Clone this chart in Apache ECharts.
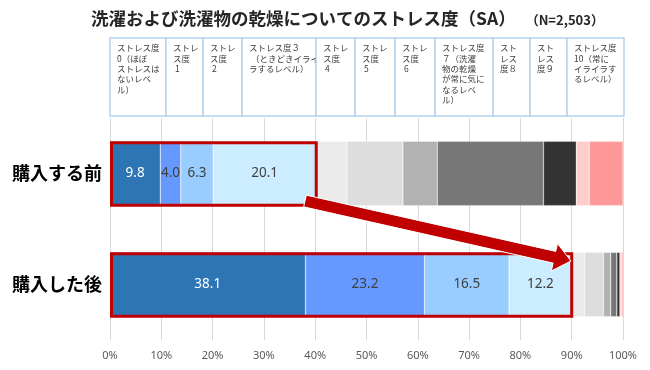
<!DOCTYPE html>
<html><head><meta charset="utf-8">
<script src="https://cdn.jsdelivr.net/npm/echarts@6/dist/echarts.min.js"></script>
<style>html,body{margin:0;padding:0;background:#fff}#c{width:650px;height:370px}</style>
</head><body><div id="c"></div>
<script>
const categories = ['購入する前', '購入した後'];
const levelNames = ['ストレス度0', 'ストレス度1', 'ストレス度2', 'ストレス度3', 'ストレス度4', 'ストレス度5', 'ストレス度6', 'ストレス度7', 'ストレス度8', 'ストレス度9', 'ストレス度10'];
const headerLabels = [
  'ストレス度\n0（ほぼ\nストレスは\nないレベ\nル）',
  'ストレ\nス度\n 1',
  'ストレ\nス度\n 2',
  'ストレス度３\n （ときどきイライ\nラするレベル）',
  'ストレ\nス度\n 4',
  'ストレ\nス度\n 5',
  'ストレ\nス度\n 6',
  'ストレス度\n７（洗濯\n物の乾燥\nが常に気に\nなるレベ\nル）',
  'スト\nレス\n度８',
  'スト\nレス\n度９',
  'ストレス度\n10（常に\nイライラす\nるレベル）'
];
const beforeValues = [9.8, 4.0, 6.3, 20.1, 6.0, 10.9, 6.7, 20.7, 6.4, 2.5, 6.6];
const afterValues = [38.1, 23.2, 16.5, 12.2, 2.5, 3.7, 1.4, 1.2, 0.6, 0.3, 0.3];
const xTickLabels = ['0%', '10%', '20%', '30%', '40%', '50%', '60%', '70%', '80%', '90%', '100%'];
const highlightCount = 4;

const colors = ['#2E75B6', '#6699FF', '#99CCFF', '#CCECFF', '#EBEBEB', '#DDDDDD', '#B2B2B2', '#777777', '#333333', '#FFCCCC', '#FF9999'];
const labelColors = ['#FFFFFF', '#404040', '#404040', '#404040'];
const headerEdges = [110, 166, 203, 242, 316, 355, 395, 435, 493, 530, 567, 624];
const headerTop = 38, headerBottom = 116;

const chart = echarts.init(document.getElementById('c'), null, {renderer: 'canvas'});

const barSeries = levelNames.map((name, i) => ({
  name: name,
  type: 'bar',
  stack: 'total',
  barWidth: '58%',
  data: [beforeValues[i], afterValues[i]],
  itemStyle: {color: colors[i], borderColor: 'rgba(255,255,255,0.6)', borderWidth: 0.5},
  label: i < highlightCount ? {
    show: true,
    position: 'inside',
    color: labelColors[i],
    fontSize: 13.5,
    fontFamily: 'Noto Sans',
    formatter: p => p.value.toFixed(1)
  } : {show: false},
  emphasis: {disabled: true},
  z: 2
}));

const sumFirst = arr => arr.slice(0, highlightCount).reduce((a, b) => a + b, 0);
const boxData = [[0, sumFirst(beforeValues)], [1, sumFirst(afterValues)]];

const boxSeries = {
  type: 'custom',
  data: boxData,
  encode: {x: 1, y: 0},
  z: 5,
  silent: true,
  renderItem: (params, api) => {
    const cat = api.value(0);
    const end = api.value(1);
    const p0 = api.coord([0, cat]);
    const p1 = api.coord([end, cat]);
    const h = api.size([0, 1])[1] * 0.58;
    return {
      type: 'rect',
      shape: {x: p0[0] + 1.5, y: p0[1] - h / 2 + 1.5, width: p1[0] - p0[0] - 1.5, height: h - 2},
      style: {fill: 'none', stroke: '#C00000', lineWidth: 3}
    };
  }
};

const headerGraphics = [];
for (let i = 0; i < headerLabels.length; i++) {
  const x0 = headerEdges[i], x1 = headerEdges[i + 1];
  headerGraphics.push({
    type: 'rect',
    shape: {x: x0, y: headerTop, width: x1 - x0, height: headerBottom - headerTop},
    style: {fill: '#FFFFFF', stroke: '#B4D2EE', lineWidth: 1.5},
    silent: true
  });
  headerGraphics.push({
    type: 'text',
    x: x0 + 7,
    y: headerTop + 5,
    style: {
      text: headerLabels[i],
      fontSize: 8.5,
      lineHeight: 10.3,
      fill: '#404040',
      fontFamily: 'Noto Sans CJK JP',
      verticalAlign: 'top'
    },
    silent: true
  });
}

function arrowPoints(sx, sy, ex, ey, halfW, headHalfW, headLen) {
  const dx = ex - sx, dy = ey - sy;
  const len = Math.sqrt(dx * dx + dy * dy);
  const ux = dx / len, uy = dy / len;
  const nx = -uy, ny = ux;
  const bx = ex - ux * headLen, by = ey - uy * headLen;
  return [
    [sx + nx * halfW, sy + ny * halfW],
    [bx + nx * halfW, by + ny * halfW],
    [bx + nx * headHalfW, by + ny * headHalfW],
    [ex, ey],
    [bx - nx * headHalfW, by - ny * headHalfW],
    [bx - nx * halfW, by - ny * halfW],
    [sx - nx * halfW, sy - ny * halfW]
  ];
}

chart.setOption({
  animation: false,
  backgroundColor: '#FFFFFF',
  title: {
    text: '{a|洗濯および洗濯物の乾燥についてのストレス度（SA）}{b|（N=2,503）}',
    left: 86,
    top: 5,
    textStyle: {
      rich: {
        a: {fontSize: 17.5, fontWeight: 'bold', color: '#262626', fontFamily: 'Noto Sans CJK JP'},
        b: {fontSize: 13, fontWeight: 'bold', color: '#262626', fontFamily: 'Noto Sans CJK JP', padding: [3, 0, 0, 10]}
      }
    }
  },
  grid: {left: 110, right: 27, top: 118, bottom: 30, containLabel: false},
  xAxis: {
    type: 'value',
    min: 0,
    max: 100,
    interval: 10,
    axisLine: {show: false},
    axisTick: {show: false},
    splitLine: {show: true, lineStyle: {color: '#D9D9D9', width: 1}},
    axisLabel: {
      color: '#595959',
      fontSize: 11,
      fontFamily: 'Noto Sans',
      margin: 10,
      formatter: v => xTickLabels[Math.round(v / 10)]
    }
  },
  yAxis: {
    type: 'category',
    data: categories,
    inverse: true,
    axisLine: {show: false},
    axisTick: {show: false},
    axisLabel: {
      color: '#000000',
      fontSize: 18,
      fontWeight: 'bold',
      fontFamily: 'Noto Sans CJK JP',
      margin: 8
    }
  },
  series: barSeries.concat([boxSeries]),
  graphic: headerGraphics.concat([{
    type: 'polygon',
    z: 100,
    silent: true,
    shape: {points: arrowPoints(305, 201, 571, 261, 6, 14, 17)},
    style: {fill: '#C00000', stroke: '#FFFFFF', lineWidth: 1}
  }])
});
</script></body></html>
